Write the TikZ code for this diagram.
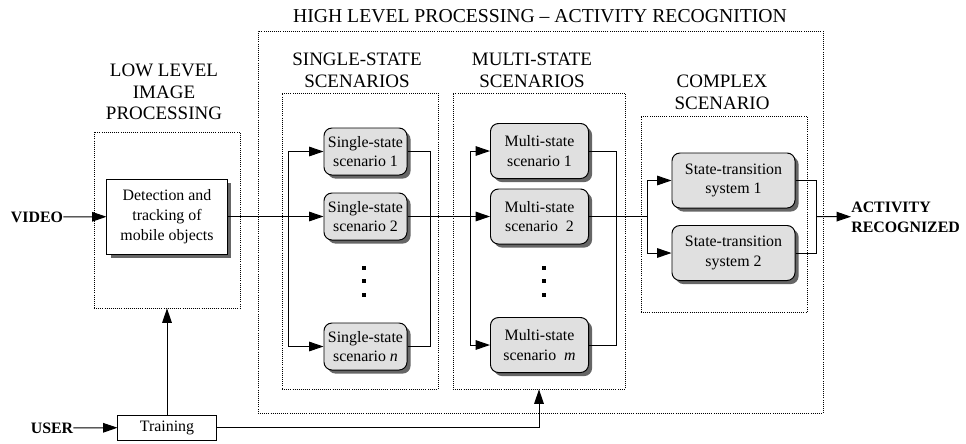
\documentclass[tikz,border=0pt]{standalone}
\usepackage{fontspec}
\setmainfont{Liberation Serif}
\usetikzlibrary{arrows.meta,shadows}
\begin{document}
\begin{tikzpicture}[x=0.025cm, y=-0.025cm, font=\fontsize{11.3}{14}\selectfont]
	\tikzstyle{Frame} = [draw, densely dotted, line width=0.5pt, inner sep=0pt]
	\tikzstyle{Block} = [draw, line width=0.7pt, align=center, inner sep=2pt, fill=white]
	\tikzstyle{State} = [Block, rounded corners=0.2cm, fill=black!12, drop shadow={shadow xshift=0.09cm, shadow yshift=-0.09cm, fill=black!60, opacity=1}]
	\tikzstyle{Label} = [align=center, inner sep=0pt, font=\fontsize{13.5}{15.5}\selectfont]
	\tikzstyle{Input} = [align=left, inner sep=0pt, font=\fontsize{11.3}{14}\selectfont\bfseries]
	\tikzstyle{Arrow} = [-{Triangle[length=0.36cm,width=0.24cm]}, line width=0.7pt]
	\tikzstyle{Line} = [line width=0.7pt]
	\useasboundingbox (0,0) rectangle (966,443);
	% frames
	\node (high) at (540.5,222) [Frame, minimum width=14.125cm, minimum height=9.55cm] {};
	\node (low) at (167,220) [Frame, minimum width=3.65cm, minimum height=4.4cm] {};
	\node (ss) at (360,241) [Frame, minimum width=3.9cm, minimum height=7.4cm] {};
	\node (ms) at (539,241) [Frame, minimum width=4.3cm, minimum height=7.4cm] {};
	\node (cs) at (724,214) [Frame, minimum width=4.15cm, minimum height=4.9cm] {};
	% titles
	\node (thigh) at (540,16) [Label, font=\fontsize{14}{16}\selectfont] {HIGH LEVEL PROCESSING -- ACTIVITY RECOGNITION};
	\node (tlow) at (164,92) [Label] {LOW LEVEL\\IMAGE\\PROCESSING};
	\node (tss) at (357,70) [Label] {SINGLE-STATE\\SCENARIOS};
	\node (tms) at (532,70) [Label] {MULTI-STATE\\SCENARIOS};
	\node (tcs) at (722,92) [Label] {COMPLEX\\SCENARIO};
	% inputs and output
	\node (video) at (37,217) [Input] {VIDEO};
	\node (user) at (52,428) [Input] {USER};
	\node (act) at (851,217) [Input, anchor=west] {ACTIVITY\\RECOGNIZED};
	% blocks
	\node (det) at (167,216.5) [Block, minimum width=3cm, minimum height=1.875cm, drop shadow={shadow xshift=0.09cm, shadow yshift=-0.09cm, fill=black!60, opacity=1}] {Detection and\\tracking of\\mobile objects};
	\node (train) at (167,427.5) [Block, minimum width=2.45cm, minimum height=0.625cm] {Training};
	\node (s1) at (365.5,151.5) [State, minimum width=2.075cm, minimum height=1.175cm] {Single-state\\scenario 1};
	\node (s2) at (365.5,216.5) [State, minimum width=2.075cm, minimum height=1.175cm] {Single-state\\scenario 2};
	\node (sn) at (365.5,346.5) [State, minimum width=2.075cm, minimum height=1.175cm] {Single-state\\scenario \textit{n}};
	\node (m1) at (539.5,151) [State, minimum width=2.45cm, minimum height=1.375cm] {Multi-state\\scenario 1};
	\node (m2) at (539.5,216.5) [State, minimum width=2.45cm, minimum height=1.375cm] {Multi-state\\scenario~~2};
	\node (mm) at (539.5,345) [State, minimum width=2.45cm, minimum height=1.375cm] {Multi-state\\scenario~~\textit{m}};
	\node (t1) at (733.5,180.5) [State, minimum width=3.075cm, minimum height=1.375cm] {State-transition\\system 1};
	\node (t2) at (733.5,253) [State, minimum width=3.075cm, minimum height=1.375cm] {State-transition\\system 2};
	% bus points
	\coordinate (sa) at (288,216.5);
	\coordinate (sb) at (430,216.5);
	\coordinate (ma) at (470,216.5);
	\coordinate (mb) at (616,216.5);
	\coordinate (ca) at (647,216.5);
	\coordinate (cb) at (816,216.5);
	% dots
	\foreach \y in {268,281,295} {
		\fill (364,\y) ++(-2,-2) rectangle ++(4,4);
		\fill (544,\y) ++(-2,-2) rectangle ++(4,4);
	}
	% connectors
	\draw[Arrow] (video) -- (det);
	\draw[Arrow] (det) -- (s2);
	\draw[Arrow] (sa) |- (s1);
	\draw[Arrow] (sa) |- (sn);
	\draw[Line] (s1) -| (sb);
	\draw[Line] (sn) -| (sb);
	\draw[Arrow] (s2) -- (m2);
	\draw[Arrow] (ma) |- (m1);
	\draw[Arrow] (ma) |- (mm);
	\draw[Line] (m1) -| (mb);
	\draw[Line] (mm) -| (mb);
	\draw[Line] (m2) -- (ca);
	\draw[Arrow] (ca) |- (t1);
	\draw[Arrow] (ca) |- (t2);
	\draw[Line] (t1) -| (cb);
	\draw[Line] (t2) -| (cb);
	\draw[Arrow] (cb) -- (act);
	\draw[Arrow] (user) -- (train);
	\draw[Arrow] (train) -- (low);
	\draw[Arrow] (train) -| (ms);
\end{tikzpicture}
\end{document}
